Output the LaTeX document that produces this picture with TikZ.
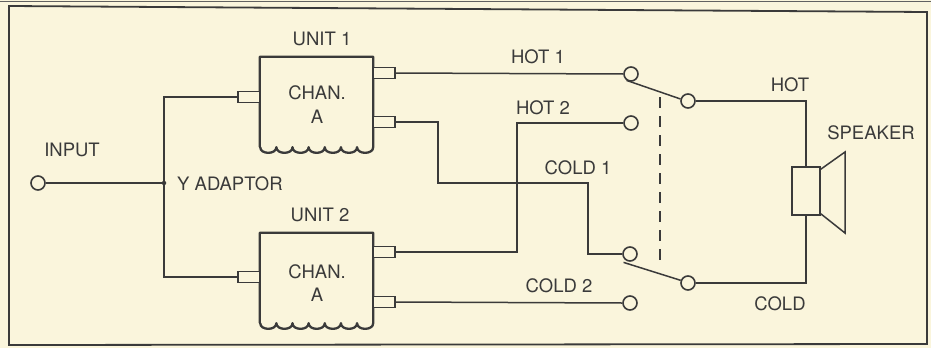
\documentclass[tikz,border=0pt]{standalone}
\usepackage{fontspec}
\setmainfont{TeX Gyre Heros}
\definecolor{paper}{HTML}{FAF5DC}
\definecolor{ink}{HTML}{3A3A3A}
\begin{document}
\begin{tikzpicture}[x=1pt,y=-1pt,
  wire/.style={draw=ink,line width=1.5pt},
  heavy/.style={draw=ink,line width=2.3pt},
  lbl/.style={text=ink,font=\fontsize{18.5}{22}\selectfont,inner sep=0pt},
  term/.style={circle,draw=ink,line width=1.6pt,fill=paper,minimum size=14pt,inner sep=0pt},
  port/.style={rectangle,draw=ink,line width=1.6pt,fill=paper,minimum width=22pt,minimum height=11pt,inner sep=0pt},
  unitbox/.style={rectangle,draw=none,minimum width=113pt,minimum height=90pt,inner sep=0pt,align=center,text=ink,font=\fontsize{18.5}{24}\selectfont},
  dot/.style={circle,fill=ink,minimum size=4.5pt,inner sep=0pt}]
\fill[paper] (0,0) rectangle (931,348);
\useasboundingbox (0,0) rectangle (931,348);
% outer frame
\draw[ink!80,line width=1pt] (0,1) -- (931,1);
\draw[heavy,line width=1.8pt] (9,6) -- (927,12) -- (927,344) -- (9,345) -- cycle;

% units
\node[unitbox] (u1) at (316.5,102) {};
\node[unitbox] (u2) at (316.5,278) {};
\foreach \u in {u1,u2}{
  \draw[heavy,line join=round] (\u.south west) -- (\u.north west) -- (\u.north east) -- (\u.south east)
    \foreach \i in {0,...,6}{ .. controls +(0,7.5) and +(0,7.5) .. ++(-16.14,0) };
}
\node[lbl] at (317,93) {CHAN.};
\node[lbl] at (317,117) {A};
\node[lbl] at (317,272) {CHAN.};
\node[lbl] at (317,295) {A};
\node[lbl] (t1) at (322,39) {UNIT 1};
\node[lbl] (t2) at (320,215) {UNIT 2};

% ports
\node[port] (u1in) at (249,97) {};
\node[port] (u1o1) at (384,73) {};
\node[port] (u1o2) at (384,122) {};
\node[port] (u2in) at (249,277) {};
\node[port] (u2o1) at (384,252) {};
\node[port] (u2o2) at (384,302) {};

% input
\node[term] (in) at (38,183) {};
\node[dot] (j) at (164,183) {};
\node[lbl] at (72,150) {INPUT};
\node[lbl,anchor=west] at (177,184) {Y ADAPTOR};
\draw[wire] (in) -- (j);
\draw[wire] (j.center) |- (u1in.west);
\draw[wire] (j.center) |- (u2in.west);

% switch terminals
\node[term] (h1) at (631,74) {};
\node[term] (h2) at (631,123) {};
\node[term] (c1) at (630,254) {};
\node[term] (c2) at (630,303) {};
\node[term] (rh) at (688,101) {};
\node[term] (rc) at (688,283) {};

\coordinate (k1) at (438,183);
\coordinate (k2) at (588,254);
\coordinate (k3) at (517,123);
\draw[wire] (u1o1.east) -- (h1.west);
\draw[wire] (u1o2.east) -| (k1) -| (k2) -- (c1.west);
\draw[wire] (u2o1.east) -| (k3) -- (h2.west);
\draw[wire] (u2o2.east) -- (c2.west);

% switch arms and ganging
\draw[wire] (h1.235) -- (rh.165);
\draw[wire] ([xshift=-2pt,yshift=-2pt]c1.235) -- (rc.160);
\coordinate (d1) at (660,97);
\coordinate (d2) at (660,265);
\draw[wire,line width=1.4pt,dash pattern=on 11pt off 8pt] (d1) -- (d2);

% speaker
\node[rectangle,draw=ink,line width=1.6pt,minimum width=28pt,minimum height=48pt,inner sep=0pt] (spk) at (806,191) {};
\draw[wire] (rh.east) -| (spk.north);
\draw[wire] (spk.south) |- (rc.east);
\draw[wire,line join=miter] ([yshift=-3pt]spk.north east) -- (845,152) -- (845,233) -- ([yshift=2pt]spk.south east);

% labels
\node[lbl] at (538,57) {HOT 1};
\node[lbl] at (543,108) {HOT 2};
\node[lbl] at (578,168) {COLD 1};
\node[lbl] at (559,286) {COLD 2};
\node[lbl] at (790,85) {HOT};
\node[lbl] at (780,304) {COLD};
\node[lbl] at (871,133) {SPEAKER};
\end{tikzpicture}
\end{document}
